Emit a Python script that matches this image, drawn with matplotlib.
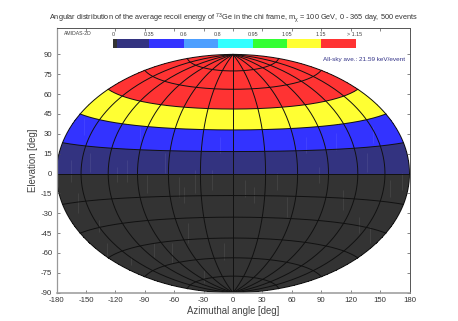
import numpy as np
import matplotlib
matplotlib.use("Agg")
import matplotlib.pyplot as plt
from matplotlib.colors import ListedColormap, BoundaryNorm

plt.rcParams['font.family'] = ['Liberation Sans', 'DejaVu Sans']
plt.rcParams['mathtext.fontset'] = 'custom'
plt.rcParams['mathtext.rm'] = 'Liberation Sans'
plt.rcParams['mathtext.it'] = 'Liberation Sans'
plt.rcParams['axes.unicode_minus'] = False

# colour scale
levels = [-0.02, 0.02, 0.35, 0.6, 0.8, 0.95, 1.05, 1.15, 1.4]
level_labels = ["0", "0.35", "0.6", "0.8", "0.95", "1.05", "1.15", "> 1.15"]
colors = ["#333333", "#333380", "#3333ff", "#4d9fff", "#33ffff", "#33ff33", "#ffff33", "#ff3333"]

# average energy per elevation band, south to north (15 deg bins)
lat_edges = np.arange(-90, 91, 15)
lon_edges = np.arange(-180, 181, 30)
band_values = [0, 0, 0, 0, 0, 0, 0.2, 0.5, 1.1, 1.3, 1.3, 1.3]

xticks = np.arange(-180, 181, 30)
yticks = np.arange(-90, 91, 15)

streak_x = [71, 78, 84, 90, 99, 107, 117, 127, 131, 140, 147, 154, 165, 172, 179, 184, 188, 195, 204, 212, 220, 224,
            245, 254, 277, 287, 306, 319, 336, 343, 359, 367, 370, 373, 390, 402]
streak_top = [160, 193, 118, 153, 220, 243, 167, 160, 257, 127, 175, 243, 153, 243, 177, 187, 223, 170, 270, 170, 137, 243,
              180, 187, 173, 197, 137, 167, 133, 190, 217, 153, 227, 127, 180, 173]
streak_bot = [182, 213, 135, 172, 232, 257, 182, 182, 265, 140, 193, 257, 173, 263, 197, 203, 243, 193, 283, 190, 153, 260,
              197, 203, 190, 217, 153, 183, 150, 210, 233, 172, 243, 143, 197, 190]


def hammer(lon, lat):
    lam = np.radians(lon)
    phi = np.radians(lat)
    d = np.sqrt(1 + np.cos(phi) * np.cos(lam / 2))
    x = 2 * np.sqrt(2) * np.cos(phi) * np.sin(lam / 2) / d
    y = np.sqrt(2) * np.sin(phi) / d
    return x * 180 / (2 * np.sqrt(2)), y * 90 / np.sqrt(2)


fig = plt.figure(figsize=(4.58, 3.21), dpi=100)
W, H = 458.0, 321.0
ax = fig.add_axes([56.5 / W, 1 - 292.7 / H, 353 / W, 264.4 / H])

cmap = ListedColormap(colors)
norm = BoundaryNorm(levels, cmap.N)

# cells
lon_fine = np.linspace(-180, 180, 361)
for i, val in enumerate(band_values):
    lat_fine = np.linspace(lat_edges[i], lat_edges[i + 1], 31)
    LON, LAT = np.meshgrid(lon_fine, lat_fine)
    X, Y = hammer(LON, LAT)
    ax.pcolormesh(X, Y, np.full((30, 360), val), cmap=cmap, norm=norm,
                  shading="flat", linewidth=0, antialiased=False)

ax.set_xlim(-180, 180)
ax.set_ylim(-90, 109.7)

# streaks, pixel to data
sx = (np.array(streak_x) - 233.0) * 360 / 353
sy0 = (173.3 - np.array(streak_top)) * 199.7 / 264.4
sy1 = (173.3 - np.array(streak_bot)) * 199.7 / 264.4
ax.vlines(sx, sy1, sy0, color="white", alpha=0.07, lw=0.7)

# grid
for lon in lon_edges:
    lat = np.linspace(-90, 90, 181)
    x, y = hammer(np.full_like(lat, lon, dtype=float), lat)
    ax.plot(x, y, color="#111111", lw=0.7, solid_capstyle="butt")
for lat0 in lat_edges[1:-1]:
    x, y = hammer(lon_fine, np.full_like(lon_fine, lat0, dtype=float))
    ax.plot(x, y, color="#111111", lw=0.7)

ax.set_xticks(xticks)
ax.set_yticks(yticks)
ax.tick_params(direction="in", top=True, right=True, length=2, width=0.5,
               labelsize=5.6, pad=3, color="#555555", labelcolor="#333333")
for s in ax.spines.values():
    s.set_linewidth(0.7)
    s.set_color("#555555")
ax.spines["left"].set_color("#999999")
ax.spines["bottom"].set_color("#999999")
ax.spines["left"].set_linewidth(0.9)
ax.spines["bottom"].set_linewidth(1.1)
ax.set_xlabel("Azimuthal angle [deg]", fontsize=6.9, color="#444444", labelpad=1.5)
ax.set_ylabel("Elevation [deg]", fontsize=6.9, color="#444444", labelpad=2)

fig.text(233.2 / W, 1 - 18 / H, r"Angular distribution of the average recoil energy of $^{73}$Ge in the chi frame, m$_{\chi}$ = 100 GeV, 0 - 365 day, 500 events",
         fontsize=5.3, ha="center", va="center", color="#333333")
fig.text(64 / W, 1 - 33.3 / H, "AMIDAS-2D", fontsize=3.7, va="center", color="#444444")
fig.text(405.5 / W, 1 - 60 / H, "All-sky ave.: 21.59 keV/event", fontsize=4.6, ha="right", va="center", color="#333388")

# colour bar
cb_x = [112.5, 117.3, 149.3, 184, 218, 252.7, 287, 321, 355.5]
cax = fig.add_axes([cb_x[0] / W, 1 - 48.3 / H, (cb_x[-1] - cb_x[0]) / W, 9.3 / H])
cax.pcolormesh(cb_x, [0, 1], np.array([[0, 0.2, 0.5, 0.7, 0.9, 1.0, 1.1, 1.3]]), cmap=cmap, norm=norm)
cax.axis("off")
label_x = [113, 149.3, 184, 218, 252.7, 287, 321, 355]
for xp, lab in zip(label_x, level_labels):
    fig.text(xp / W, 1 - 34.7 / H, lab, fontsize=3.9, ha="center", va="center", color="#444444")

fig.savefig("out.png", dpi=100)
